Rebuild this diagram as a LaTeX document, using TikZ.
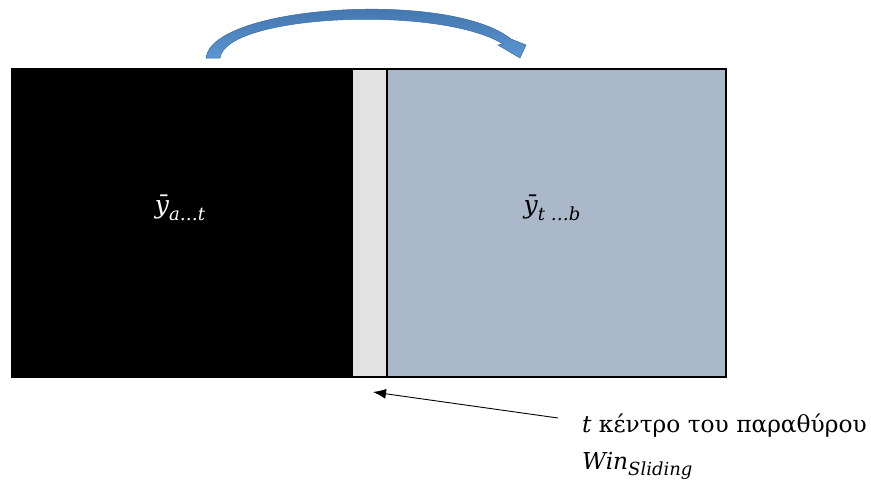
\documentclass[tikz,border=0pt]{standalone}
\usepackage{fontspec}
\setmainfont{DejaVu Serif}
\usetikzlibrary{arrows.meta}
\definecolor{blkbox}{HTML}{000000}
\definecolor{midgray}{HTML}{E3E3E3}
\definecolor{bluebox}{HTML}{ABB8CA}
\definecolor{arrowdark}{HTML}{3A6CA3}
\definecolor{arrowlight}{HTML}{5C95D0}
\newcommand{\sbs}[1]{\raisebox{-0.28em}{\fontsize{18}{20}\selectfont\itshape #1}}
\begin{document}
\begin{tikzpicture}[x=1pt,y=-1pt,
  boxpart/.style={draw=black, line width=1.6pt, inner sep=0pt, anchor=north west},
  lbl/.style={font=\fontsize{25}{28}\selectfont\itshape},
  note/.style={font=\fontsize{23.3}{37}\selectfont, align=left, anchor=base west, inner sep=0pt}]
\useasboundingbox (0,0) rectangle (871,480);
\node[boxpart, fill=blkbox, minimum width=340pt, minimum height=308pt] (left) at (11,68) {};
\node[boxpart, fill=midgray, minimum width=35pt, minimum height=308pt] (mid) at (351,68) {};
\node[boxpart, fill=bluebox, minimum width=339pt, minimum height=308pt] (right) at (386,68) {};
\node[lbl, text=white] (la) at (180,208) {ȳ\sbs{a…t}};
\node[lbl, text=black] (lb) at (552,208) {ȳ\sbs{t …b}};
% curved block arrow
\shade[top color=arrowdark, bottom color=arrowlight, draw=arrowdark, line width=0.5pt]
  (206,58) .. controls (212,5) and (450,-10) .. (511,39)
  -- (526,45) -- (520,58) -- (498,45) -- (503,44)
  .. controls (440,5) and (226,14) .. (220,58) -- cycle;
\node[note] (txt) at (582,469) {{\itshape t} κέντρο του παραθύρου\\ {\itshape Win}\sbs{Sliding}};
\coordinate (tail) at (558,418);
\coordinate (tip) at (373,392);
\draw[-{Latex[length=13pt,width=10pt]}, line width=0.9pt] (tail) -- (tip);
\end{tikzpicture}
\end{document}
